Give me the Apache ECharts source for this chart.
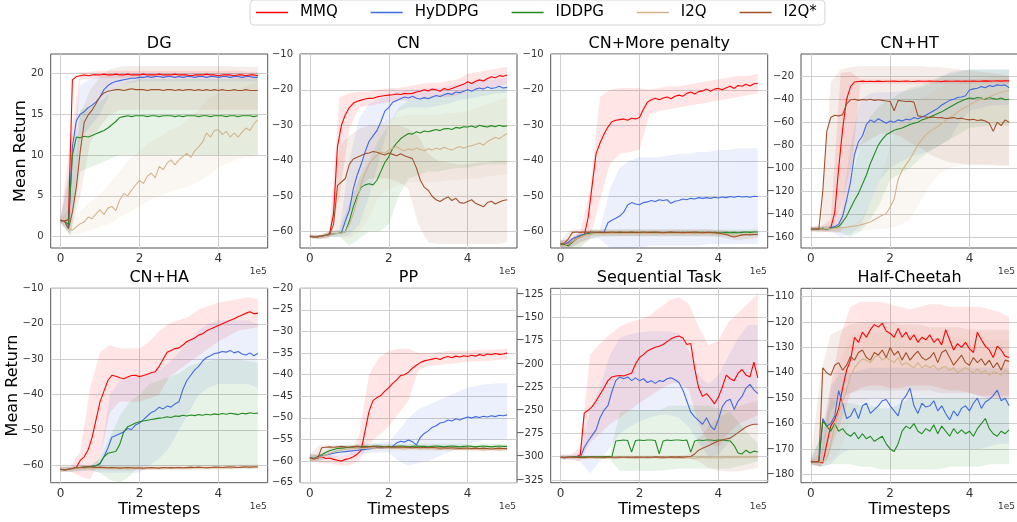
<!DOCTYPE html>
<html>
<head>
<meta charset="utf-8">
<script src="https://cdn.jsdelivr.net/npm/echarts@6/dist/echarts.min.js"></script>
<style>
  html, body { margin: 0; padding: 0; background: #fff; }
  #chart { width: 1017px; height: 522px; }
</style>
</head>
<body>
<div id="chart"></div>
<script>
const names = ['MMQ', 'HyDDPG', 'IDDPG', 'I2Q', 'I2Q*'];
const colors = ['#ff0000', '#4169e1', '#228b22', '#d2b48c', '#a0522d'];
const titles = ['DG', 'CN', 'CN+More penalty', 'CN+HT', 'CN+HA', 'PP', 'Sequential Task', 'Half-Cheetah'];

// timesteps (x 1e5) of the mean curves and of the shaded bands
const steps = [0,0.1,0.2,0.3,0.4,0.5,0.6,0.7,0.8,0.9,1,1.1,1.2,1.3,1.4,1.5,1.6,1.7,1.8,1.9,2,2.1,2.2,2.3,2.4,2.5,2.6,2.7,2.8,2.9,
  3,3.1,3.2,3.3,3.4,3.5,3.6,3.7,3.8,3.9,4,4.1,4.2,4.3,4.4,4.5,4.6,4.7,4.8,4.9,5];
const bandSteps = [0,0.25,0.5,0.75,1,1.25,1.5,1.75,2,2.25,2.5,2.75,3,3.25,3.5,3.75,4,4.25,4.5,4.75,5];

const xTicks = [0, 2, 4];
const yTicks = [
  [0, 5, 10, 15, 20],
  [-60, -50, -40, -30, -20, -10],
  [-60, -50, -40, -30, -20, -10],
  [-160, -140, -120, -100, -80, -60, -40, -20],
  [-60, -50, -40, -30, -20, -10],
  [-65, -60, -55, -50, -45, -40, -35, -30, -25, -20],
  [-325, -300, -275, -250, -225, -200, -175, -150, -125],
  [-180, -170, -160, -150, -140, -130, -120, -110]
];
const yRanges = [[-1.38, 22.36], [-64.6, -9.9], [-64.6, -9.9], [-169.6, -0.6], [-64.8, -10], [-65, -20], [-328, -118.5], [-183.3, -106.7]];

// ---------- DG ----------
const dgMMQ = [2.0,1.9,2.1,19.2,19.6,19.7,19.8,19.7,19.8,19.8,
  19.8,19.9,19.8,19.8,19.9,19.8,19.8,19.9,19.8,19.8,
  19.8,19.9,19.8,19.8,19.8,19.9,19.8,19.8,19.8,19.9,
  19.8,19.8,19.8,19.7,19.8,19.8,19.8,19.9,19.8,19.8,
  19.7,19.8,19.8,19.8,19.7,19.8,19.8,19.7,19.8,19.8, 19.7];
const dgHyDDPG = [2.0,1.9,1.0,11.0,14.2,15.0,15.3,15.8,16.1,16.5,
  17.1,18.0,18.5,18.8,19.0,19.1,19.2,19.3,19.4,19.4,
  19.5,19.5,19.6,19.5,19.6,19.6,19.5,19.6,19.6,19.5,
  19.6,19.5,19.6,19.6,19.5,19.6,19.6,19.5,19.6,19.6,
  19.5,19.6,19.6,19.5,19.6,19.6,19.5,19.6,19.6,19.5, 19.5];
const dgIDDPG = [2.0,1.9,1.5,10.0,12.2,12.1,12.3,12.2,12.4,12.6,
  12.8,13.0,13.3,13.7,14.1,14.6,14.7,14.8,14.7,14.8,
  14.8,14.8,14.7,14.8,14.8,14.7,14.8,14.8,14.8,14.7,
  14.8,14.7,14.8,14.8,14.8,14.7,14.8,14.8,14.7,14.8,
  14.8,14.8,14.7,14.8,14.8,14.7,14.8,14.8,14.8,14.7, 14.8];
const dgI2Q = [2.0,1.9,1.0,0.8,1.2,1.6,1.8,2.4,2.2,2.8,
  3.3,2.7,3.5,3.7,3.2,4.5,5.3,5.0,5.7,6.3,
  6.9,6.5,7.4,7.8,7.2,8.6,8.2,9.0,9.4,8.8,
  9.4,9.8,10.2,9.7,10.5,11.0,11.6,12.7,12.2,13.0,
  13.1,12.5,12.9,12.2,12.7,12.2,12.8,13.3,13.0,13.8, 14.3];
const dgI2Qs = [2.0,1.9,1.0,3.0,6.1,10.5,14.0,14.9,15.5,16.3,
  17.1,17.6,17.8,17.9,18.0,18.0,17.9,18.0,18.1,18.0,
  18.0,18.0,17.9,18.0,18.0,18.0,17.9,18.0,18.0,17.9,
  18.0,17.9,18.0,18.0,17.9,18.0,17.9,18.0,17.9,18.0,
  17.9,18.0,17.9,17.9,18.0,17.9,17.9,18.0,17.9,17.9, 17.9];
const dgMMQLo = [1.7,1.7,19.2,19.3,19.4,19.4,19.4,19.4,19.4,19.4,19.4,19.4,19.4,19.4,19.4,19.4,19.4,19.4,19.3,19.3,19.3];
const dgMMQHi = [2.3,12,20.1,20.2,20.3,20.3,20.3,20.3,20.3,20.3,20.3,20.3,20.3,20.3,20.3,20.3,20.3,20.3,20.3,20.2,20.2];
const dgHyDDPGLo = [1.7,0.3,12.0,13.5,15.0,17.5,18.5,18.8,19.0,19.0,19.0,19.0,19.0,19.0,19.0,19.0,19.0,19.0,19.0,19.0,19.0];
const dgHyDDPGHi = [2.3,9.0,18.5,19.3,19.7,19.9,20.0,20.0,20.0,20.0,20.0,20.0,20.0,20.0,20.0,20.0,20.0,20.0,20.0,20.0,20.0];
const dgIDDPGLo = [1.7,0.0,8.0,8.5,9.0,9.5,10.0,10.0,10.0,10.0,10.0,10.0,10.0,10.0,10.0,10.0,10.0,10.0,10.0,10.0,10.0];
const dgIDDPGHi = [2.3,8.0,15.5,16.0,16.5,17.5,18.5,19.0,19.3,19.3,19.3,19.3,19.3,19.3,19.3,19.3,19.3,19.3,19.3,19.3,19.3];
const dgI2QLo = [1.7,0.2,0.3,0.8,1.2,1.6,2.4,3.0,3.8,4.4,5.0,5.4,5.8,6.2,6.8,7.5,8.5,9.0,9.5,9.8,10.0];
const dgI2QHi = [2.3,2.0,3.2,4.2,5.2,6.5,8.0,9.5,10.5,11.5,12.2,13.0,13.5,14.5,15.5,17.0,17.5,17.8,18.0,18.5,19.0];
const dgI2QsLo = [1.7,0.3,5.0,11.5,13.5,15.0,15.5,15.5,15.5,15.5,15.5,15.5,15.5,15.5,15.5,15.5,15.5,15.5,15.5,15.5,15.5];
const dgI2QsHi = [2.3,3.5,15.0,18.0,19.5,20.5,20.8,20.9,20.9,20.9,20.9,20.9,20.9,20.9,20.9,20.9,20.9,20.9,20.8,20.8,20.8];

// ---------- CN ----------
const cnMMQ = [-61.3,-61.5,-61.4,-61.2,-61.0,-60.6,-55.0,-36.0,-30.0,-27.0,
  -25.0,-23.8,-23.2,-22.9,-22.6,-22.4,-22.4,-22.0,-21.8,-21.6,
  -21.5,-21.4,-21.2,-21.3,-21.0,-21.1,-21.0,-20.6,-20.4,-20.0,
  -20.3,-19.8,-20.0,-20.4,-19.6,-20.0,-19.6,-19.2,-18.8,-18.4,
  -17.7,-18.2,-17.6,-17.2,-17.5,-16.8,-16.3,-16.6,-16.0,-16.2, -15.8];
const cnHyDDPG = [-61.3,-61.5,-61.4,-61.2,-61.0,-60.8,-60.6,-60.5,-60.3,-57.0,
  -54.0,-48.0,-44.0,-41.0,-37.5,-34.5,-33.0,-31.5,-29.0,-26.0,
  -25.0,-23.5,-23.0,-22.5,-22.0,-22.3,-21.8,-22.4,-22.6,-22.2,
  -22.5,-22.0,-21.6,-21.9,-21.4,-21.0,-21.3,-20.6,-20.8,-20.4,
  -20.0,-20.4,-19.8,-19.5,-19.8,-19.2,-19.6,-19.4,-19.0,-19.5, -19.3];
const cnIDDPG = [-61.3,-61.5,-61.4,-61.2,-61.0,-60.8,-60.6,-60.5,-60.4,-60.0,
  -57.0,-53.0,-50.0,-47.5,-46.8,-46.5,-46.8,-45.5,-43.0,-40.5,
  -38.9,-36.5,-35.0,-33.8,-33.0,-32.3,-32.5,-31.8,-32.2,-31.6,
  -31.8,-31.5,-31.2,-31.5,-31.0,-30.9,-31.2,-30.6,-30.8,-30.4,
  -30.5,-30.2,-30.6,-30.0,-30.3,-30.5,-30.1,-30.4,-30.0,-30.3, -30.2];
const cnI2Q = [-61.3,-61.5,-61.4,-61.2,-61.0,-60.8,-60.6,-60.5,-60.4,-60.0,
  -58.0,-55.0,-51.0,-46.5,-43.5,-41.0,-39.5,-38.5,-37.5,-37.8,
  -37.0,-36.5,-36.0,-36.8,-37.2,-36.6,-37.0,-36.4,-36.8,-37.2,
  -36.6,-37.0,-36.4,-36.8,-36.2,-36.6,-37.0,-36.4,-36.0,-36.5,
  -36.0,-35.8,-35.4,-35.0,-35.6,-34.6,-34.0,-33.4,-33.8,-33.0, -32.3];
const cnI2Qs = [-61.3,-61.5,-61.4,-61.2,-61.0,-60.8,-58.0,-47.0,-46.0,-45.0,
  -41.0,-39.5,-39.0,-38.5,-38.0,-37.8,-37.4,-37.6,-38.0,-38.4,
  -37.8,-38.2,-38.6,-38.0,-38.6,-39.0,-39.4,-42.0,-45.5,-47.5,
  -48.3,-50.0,-51.0,-51.5,-50.8,-50.2,-51.2,-50.6,-51.8,-52.0,
  -51.5,-51.0,-52.0,-52.5,-53.0,-51.8,-51.4,-52.2,-51.6,-51.2, -51.0];
const cnMMQLo = [-61.8,-62,-62,-50,-31,-25,-24.5,-24,-23.5,-23,-23,-22.5,-22.5,-22,-22,-21.5,-20.5,-20,-19.5,-19,-18.5];
const cnMMQHi = [-60.8,-61,-60,-22,-21,-20.5,-20.5,-20,-19.5,-19.5,-19,-18.5,-18,-18,-17.5,-17,-15.5,-15,-14.5,-14,-13.5];
const cnHyDDPGLo = [-61.8,-62,-61.5,-61.5,-61,-58,-50,-40,-30,-26,-25,-25,-25,-24.5,-24,-23,-22.5,-22,-21.5,-21,-21];
const cnHyDDPGHi = [-60.8,-61,-60,-59.5,-40,-28,-24,-22.5,-21,-20.5,-20,-20,-19.5,-19.5,-19,-18.5,-18,-17.5,-17,-17,-16.5];
const cnIDDPGLo = [-61.8,-62,-61.5,-61.5,-64,-62,-60,-60,-58,-50,-45,-44,-43,-43,-42.5,-42,-42,-41.5,-41,-41,-41];
const cnIDDPGHi = [-60.8,-61,-60,-59.5,-52,-45,-40,-34,-30,-25,-23,-22.5,-22,-21.5,-21,-21,-20.5,-20,-20,-19.5,-19];
const cnI2QLo = [-61.8,-62,-61.5,-61.5,-62,-60,-56,-50,-48,-47,-46,-46,-46,-46,-45.5,-45.5,-45,-45,-44.5,-44,-44];
const cnI2QHi = [-60.8,-61,-60,-59.5,-56,-45,-34,-30,-28,-27.5,-27,-27,-27,-27,-26.5,-26.5,-26,-25,-24,-23,-22];
const cnI2QsLo = [-61.8,-62,-61.5,-60,-55,-48,-45,-45,-45,-46,-48,-58,-63,-63.5,-63.5,-63.5,-63.5,-63.5,-63.5,-63.5,-63];
const cnI2QsHi = [-60.8,-61,-60,-36,-33,-31,-30,-30,-30,-30,-31,-33,-38,-40,-40.5,-41,-41,-40.5,-40.5,-40,-40];

// ---------- CN+More penalty ----------
const mpMMQ = [-63.5,-63.8,-63.4,-62.8,-62.0,-61.5,-61.0,-56.0,-47.0,-38.0,
  -35.0,-32.5,-30.5,-29.0,-28.6,-28.4,-28.2,-28.6,-28.0,-28.2,
  -27.8,-25.5,-23.5,-22.8,-22.4,-22.8,-22.3,-22.0,-22.5,-21.8,
  -21.5,-21.8,-21.0,-20.6,-21.2,-20.5,-20.3,-19.8,-20.4,-19.8,
  -19.6,-20.0,-19.4,-19.0,-19.6,-18.8,-19.0,-18.4,-18.9,-18.3, -18.2];
const mpHyDDPG = [-63.5,-63.6,-63.0,-62.0,-61.5,-61.0,-60.7,-60.5,-60.4,-60.3,
  -60.3,-60.2,-57.5,-56.8,-56.2,-55.6,-54.5,-52.5,-51.8,-52.2,
  -52.4,-51.8,-51.6,-51.2,-51.5,-51.0,-51.2,-51.0,-52.0,-51.4,
  -51.2,-50.8,-51.0,-50.6,-50.8,-50.4,-50.6,-50.4,-50.6,-50.3,
  -50.5,-50.2,-50.4,-50.1,-50.3,-50.0,-50.2,-50.1,-50.3,-50.0, -50.1];
const mpIDDPG = [-63.5,-63.6,-64.0,-63.0,-62.0,-61.3,-60.8,-60.6,-60.5,-60.4,
  -60.3,-60.2,-60.3,-60.4,-60.3,-60.2,-60.3,-60.3,-60.2,-60.3,
  -60.3,-60.4,-60.3,-60.2,-60.3,-60.3,-60.4,-60.3,-60.2,-60.3,
  -60.3,-60.2,-60.3,-60.3,-60.4,-60.3,-60.2,-60.3,-60.3,-60.2,
  -60.3,-60.3,-60.2,-60.3,-60.2,-60.3,-60.2,-60.1,-60.2,-60.1, -60.1];
const mpI2Q = [-63.8,-63.9,-63.5,-62.8,-62.0,-61.5,-61.0,-60.8,-60.6,-60.5,
  -60.5,-60.6,-60.5,-60.4,-60.5,-60.6,-60.5,-60.4,-60.5,-60.5,
  -60.6,-60.5,-60.4,-60.5,-60.6,-60.5,-60.5,-60.4,-60.5,-60.6,
  -60.5,-60.4,-60.5,-60.5,-60.6,-60.5,-60.4,-60.5,-60.6,-60.5,
  -60.6,-60.7,-60.8,-60.9,-61.0,-61.0,-60.9,-60.8,-60.7,-60.7, -60.6];
const mpI2Qs = [-63.5,-63.2,-62.0,-60.2,-60.1,-60.2,-60.1,-60.2,-60.1,-60.2,
  -60.1,-60.2,-60.2,-60.1,-60.2,-60.1,-60.2,-60.2,-60.1,-60.2,
  -60.2,-60.1,-60.2,-60.2,-60.1,-60.2,-60.3,-60.2,-60.1,-60.2,
  -60.2,-60.3,-60.2,-60.2,-60.1,-60.2,-60.3,-60.2,-60.2,-60.3,
  -60.4,-60.6,-60.8,-61.2,-61.5,-61.2,-60.9,-60.8,-60.9,-60.8, -60.8];
const mpMMQLo = [-64.5,-64.5,-63,-62,-51,-41,-38,-37.5,-37,-27,-26,-25.5,-25,-24.5,-24,-23.5,-23,-22.5,-22,-21.5,-21];
const mpMMQHi = [-62.5,-62,-60,-48,-22,-20,-19.5,-19.5,-19.5,-20,-19.5,-19,-19,-18.5,-18,-17.5,-17,-16.5,-16,-16,-15.5];
const mpHyDDPGLo = [-64.5,-64.5,-63,-62,-62,-65,-65.5,-65,-64.5,-64,-64,-64,-64,-64,-64,-63.5,-63.5,-63.5,-63.5,-63.5,-63.5];
const mpHyDDPGHi = [-62.5,-62,-60,-59.5,-59.5,-48,-42,-40,-39,-39,-39,-38.5,-38,-38,-37.5,-37.5,-37,-37,-36.5,-36.5,-36.5];
const mpIDDPGLo = [-64.5,-65,-64.5,-62,-61.3,-61.3,-61.2,-61.2,-61.2,-61.2,-61.2,-61.2,-61.2,-61.2,-61.2,-61.2,-61.2,-61.2,-61.2,-61.2,-61.2];
const mpIDDPGHi = [-62.5,-62.5,-60.5,-59.5,-59.4,-59.4,-59.4,-59.4,-59.4,-59.4,-59.4,-59.4,-59.4,-59.4,-59.4,-59.4,-59.4,-59.4,-59.4,-59.4,-59.2];
const mpI2QLo = [-64.5,-64.5,-64,-62,-61.5,-61.5,-61.5,-61.5,-61.5,-61.5,-61.5,-61.5,-61.5,-61.5,-61.5,-61.5,-61.5,-61.8,-62,-62,-61.8];
const mpI2QHi = [-62.5,-62.5,-61,-59.5,-59.5,-59.5,-59.5,-59.5,-59.5,-59.5,-59.5,-59.5,-59.5,-59.5,-59.5,-59.5,-59.5,-59.8,-60,-60,-59.8];
const mpI2QsLo = [-64.5,-63.5,-61.5,-61.2,-61.2,-61.2,-61.2,-61.2,-61.2,-61.2,-61.2,-61.2,-61.2,-61.2,-61.2,-61.2,-61.5,-62,-62.5,-62,-61.8];
const mpI2QsHi = [-62.5,-59.5,-59.3,-59.3,-59.3,-59.3,-59.3,-59.3,-59.3,-59.3,-59.3,-59.3,-59.3,-59.3,-59.3,-59.3,-59.5,-59.8,-60,-59.8,-59.8];

// ---------- CN+HT ----------
const htMMQ = [-153,-152.8,-153,-152.6,-153,-152,-139,-100,-66,-40,
  -29,-25,-24.5,-24.2,-24.5,-24.3,-24.6,-24.2,-24.5,-24.3,
  -24.4,-24.2,-24.5,-24.3,-24.2,-24.4,-24.5,-24.2,-24.3,-24.4,
  -24.2,-24.4,-24.3,-24.5,-24.2,-24.3,-24.4,-24.2,-24.3,-24.2,
  -24.3,-24.1,-24.3,-24.2,-24.0,-24.2,-24.1,-24.0,-24.2,-24.0, -24.0];
const htHyDDPG = [-153,-153,-153,-152.5,-153,-152,-151,-149,-142,-128,
  -112,-88,-77,-72,-62,-58,-60,-57,-59,-61,
  -59,-60,-58,-59,-57.5,-58,-56,-57,-55.5,-54,
  -52,-50,-48,-45,-43,-41,-40,-38.5,-38,-37,
  -32,-31,-30.5,-29,-30,-28,-29,-27.5,-28,-27.5, -30];
const htIDDPG = [-153,-153,-153,-152.5,-153,-152.5,-152,-151,-147,-142,
  -135,-128,-122,-114,-106,-96,-88,-80,-75,-71,
  -69,-67,-66,-65,-63.5,-62,-61,-60,-58,-57,
  -55.5,-54,-52.5,-51,-49,-47,-45,-43,-41.5,-40,
  -39,-39.5,-38.5,-39,-40,-38.5,-39.5,-40,-39,-40.5, -40];
const htI2Q = [-153,-153,-153,-153,-152.5,-153,-152.5,-152,-152,-151.5,
  -151,-150.5,-150,-149,-148,-147,-145,-143,-141,-139.5,
  -134,-127,-110,-102,-97,-92,-86,-80,-75,-71,
  -68,-66,-64,-61,-59,-56,-54,-51,-49,-47,
  -45,-43,-41,-40,-39,-38,-36.5,-35,-34,-33, -32];
const htI2Qs = [-153,-153,-153,-120,-68,-56,-54,-54.5,-53.5,-44,
  -40.5,-40,-41,-40.2,-40.6,-40,-41,-40.5,-41,-41.5,
  -42,-50,-41,-41.5,-42,-41.8,-42.5,-54.5,-55,-55.5,
  -56,-55.5,-56.2,-56,-56.8,-56.5,-56,-57,-56.5,-57.5,
  -58,-57.5,-58.5,-58,-59,-61,-68,-60,-63,-58, -60];
const htMMQLo = [-155,-155,-156,-156,-110,-27,-26.5,-26.5,-26.5,-26.5,-26.5,-26.5,-26.5,-26.5,-26.5,-26.5,-26.5,-26.5,-26.5,-26.5,-26.5];
const htMMQHi = [-151,-151,-145,-17,-16,-22.5,-22.5,-22.5,-22.5,-22.5,-22.5,-22.5,-22.5,-22.5,-22.5,-22.5,-22.5,-22.5,-22.5,-22.5,-22];
const htHyDDPGLo = [-155,-155,-155,-160,-158,-150,-130,-110,-100,-95,-90,-88,-85,-80,-75,-60,-50,-48,-46,-45,-45];
const htHyDDPGHi = [-151,-151,-150,-140,-80,-40,-35,-34,-34,-33,-32,-30,-27,-22,-16,-15,-14,-14,-14,-14,-14];
const htIDDPGLo = [-155,-155,-155,-156,-160,-155,-145,-130,-110,-105,-100,-92,-85,-80,-75,-70,-65,-64,-63,-63,-63];
const htIDDPGHi = [-151,-151,-150,-148,-110,-80,-55,-45,-40,-35,-30,-28,-25,-20,-18,-16,-14,-14,-14,-14,-14];
const htI2QLo = [-155,-155,-155,-155,-155,-155,-154,-153,-152,-150,-145,-130,-115,-105,-100,-98,-97,-97,-97,-97,-97];
const htI2QHi = [-151,-151,-151,-151,-150,-145,-130,-110,-80,-60,-48,-40,-35,-30,-27,-25,-23,-22,-21,-20,-19];
const htI2QsLo = [-155,-156,-155,-135,-100,-80,-75,-70,-70,-72,-78,-82,-88,-92,-95,-96,-97,-97,-97,-98,-98];
const htI2QsHi = [-151,-150,-25,-14,-12,-11,-11,-11,-11,-11,-11,-11,-12,-12,-13,-14,-15,-16,-17,-18,-20];

// ---------- CN+HA ----------
const haMMQ = [-61,-61.2,-61,-60.8,-60.5,-58.5,-57.5,-55.5,-52,-47,
  -42,-39,-36,-34.5,-34.8,-35.2,-35.5,-35,-34.6,-34.5,
  -34.9,-34.6,-34.2,-33.8,-33.5,-32,-30,-28,-27.5,-27,
  -26.8,-26,-25,-24.5,-24,-23.2,-22.8,-22,-21.5,-21,
  -20.5,-20,-19.5,-19,-18.6,-18,-17.5,-17,-16.6,-17.2, -17];
const haHyDDPG = [-61,-61.2,-61,-60.8,-60.6,-60.5,-60.4,-60.3,-60.2,-60.0,
  -59.5,-57.5,-55,-52,-51.5,-51,-50.5,-49.5,-49.8,-48.5,
  -48,-47,-46,-45,-44.5,-43.5,-44,-43.2,-43.5,-42.6,
  -42,-38.5,-36,-34.5,-33,-32,-30.5,-29.5,-29,-28.4,
  -28.2,-27.8,-28,-27.5,-28.2,-27.8,-28.5,-28.8,-28.2,-29, -28.3];
const haIDDPG = [-61,-61.2,-61,-60.8,-60.6,-60.5,-60.4,-60.3,-60.2,-60.0,
  -59.3,-57.5,-56.5,-56.2,-56,-54,-50.5,-49,-48.5,-48,
  -47.6,-47.4,-47.2,-47,-46.8,-46.6,-46.5,-46.2,-46.4,-46,
  -46.1,-45.8,-46,-45.7,-45.9,-45.6,-45.8,-45.5,-45.7,-45.4,
  -45.6,-45.3,-45.5,-45.2,-45.4,-45.6,-45.2,-45.4,-45.1,-45.3, -45.2];
const haI2Q = [-61.2,-61.3,-61.0,-60.9,-60.8,-60.7,-60.8,-60.7,-60.6,-60.7,
  -60.6,-60.7,-60.8,-60.7,-60.6,-60.7,-60.8,-60.9,-60.8,-60.7,
  -60.8,-60.9,-60.8,-60.7,-60.8,-60.7,-60.6,-60.7,-60.8,-60.7,
  -60.6,-60.7,-60.8,-60.7,-60.6,-60.5,-60.6,-60.7,-60.6,-60.5,
  -60.6,-60.5,-60.6,-60.7,-60.6,-60.5,-60.4,-60.5,-60.6,-60.5, -60.5];
const haI2Qs = [-61.0,-61.2,-61.0,-60.8,-60.6,-60.5,-60.4,-60.3,-60.4,-60.5,
  -60.4,-60.5,-60.6,-60.5,-60.6,-60.7,-60.6,-60.5,-60.6,-60.7,
  -60.6,-60.7,-60.6,-60.5,-60.6,-60.7,-60.5,-60.6,-60.5,-60.6,
  -60.5,-60.6,-60.5,-60.4,-60.5,-60.4,-60.5,-60.6,-60.5,-60.4,
  -60.4,-60.5,-60.4,-60.3,-60.4,-60.5,-60.4,-60.3,-60.4,-60.3, -60.3];
const haMMQLo = [-61.7,-61.7,-63,-64,-58,-45,-42,-42,-42,-41,-40,-35,-33,-31,-29,-27,-25,-23.5,-22,-21.5,-21];
const haMMQHi = [-60.3,-60.3,-56,-38,-28,-26,-27,-27,-27,-25,-22,-20,-19,-18,-16,-15,-14,-13.5,-13,-12.5,-13];
const haHyDDPGLo = [-61.7,-61.7,-61.5,-61.3,-62,-62,-62,-62,-62,-60,-58,-55,-50,-45,-40,-38,-37,-37,-37,-37,-38];
const haHyDDPGHi = [-60.3,-60.3,-60.3,-60,-58,-40,-36,-35,-35,-34,-33,-31,-28,-25,-22,-20,-19,-19,-19,-19,-20];
const haIDDPGLo = [-61.7,-61.7,-61.5,-61.3,-62,-64,-65,-63,-60,-60,-60,-60,-60,-60,-60,-60,-60,-60,-60,-60,-60];
const haIDDPGHi = [-60.3,-60.3,-60.3,-60,-58,-52,-46,-42,-40,-37,-36,-35,-34,-32,-31,-30.5,-30,-30,-30,-30.5,-31];
const haI2QLo = [-61.8,-61.6,-61.4,-61.4,-61.3,-61.3,-61.4,-61.4,-61.4,-61.3,-61.3,-61.3,-61.3,-61.2,-61.2,-61.2,-61.2,-61.1,-61.1,-61.1,-61.1];
const haI2QHi = [-60.6,-60.4,-60.2,-60.2,-60.1,-60.1,-60.2,-60.2,-60.2,-60.1,-60.1,-60.1,-60.1,-60.0,-60.0,-60.0,-60.0,-59.9,-59.9,-59.9,-59.9];
const haI2QsLo = [-61.6,-61.4,-61.0,-61.0,-61.1,-61.2,-61.2,-61.2,-61.2,-61.2,-61.2,-61.1,-61.1,-61.1,-61.0,-61.0,-61.0,-61.0,-60.9,-60.9,-60.9];
const haI2QsHi = [-60.4,-60.2,-59.8,-59.8,-59.9,-60.0,-60.0,-60.0,-60.0,-60.0,-60.0,-59.9,-59.9,-59.9,-59.8,-59.8,-59.8,-59.8,-59.7,-59.7,-59.7];

// ---------- PP ----------
const ppMMQ = [-59.2,-59.5,-59.3,-59.0,-59.4,-59.3,-59.6,-59.8,-60.0,-59.6,
  -59.4,-59.0,-58.4,-57.5,-53.0,-48.5,-46.0,-45.3,-44.8,-43.8,
  -43.0,-42.0,-41.2,-40.2,-40.0,-39.4,-38.5,-37.8,-37.2,-36.8,
  -36.6,-36.4,-36.2,-36.5,-36.0,-35.8,-36.1,-35.7,-35.9,-35.6,
  -35.8,-35.5,-35.7,-35.3,-35.6,-35.2,-35.4,-35.1,-35.3,-35.2, -35.0];
const ppHyDDPG = [-59.2,-59.4,-59.0,-58.8,-58.6,-58.4,-58.2,-58.0,-57.9,-57.8,
  -57.7,-57.6,-57.5,-57.4,-57.3,-57.2,-57.1,-57.0,-57.0,-56.9,
  -56.8,-56.6,-55.8,-55.4,-55.6,-55.1,-55.5,-56.3,-54.5,-53.6,
  -53.0,-52.2,-51.8,-51.2,-51.0,-50.5,-50.7,-50.2,-50.5,-50.1,
  -49.8,-50.0,-49.7,-49.9,-49.6,-49.8,-49.5,-49.7,-49.4,-49.5, -49.3];
const ppIDDPG = [-59.2,-59.4,-59.0,-58.5,-58.0,-57.6,-57.3,-57.1,-57.0,-56.9,
  -56.8,-56.7,-56.6,-56.7,-56.6,-56.7,-56.6,-56.5,-56.6,-56.7,
  -56.6,-56.7,-56.6,-56.5,-56.6,-56.7,-56.6,-56.5,-56.6,-56.6,
  -56.7,-56.6,-56.5,-56.6,-56.7,-56.6,-56.5,-56.6,-56.7,-56.6,
  -56.5,-56.6,-56.7,-56.6,-56.5,-56.6,-56.7,-56.6,-56.5,-56.6, -56.6];
const ppI2Q = [-59.2,-59.5,-59.2,-59.0,-58.6,-58.2,-57.9,-57.6,-57.4,-57.3,
  -57.2,-57.1,-57.0,-57.1,-57.0,-56.9,-57.0,-57.1,-57.0,-56.9,
  -57.0,-57.1,-57.0,-57.1,-57.2,-57.1,-57.0,-57.1,-57.2,-57.1,
  -57.2,-57.1,-57.2,-57.3,-57.2,-57.1,-57.2,-57.3,-57.2,-57.3,
  -57.2,-57.3,-57.2,-57.3,-57.4,-57.3,-57.2,-57.3,-57.4,-57.3, -57.3];
const ppI2Qs = [-59.2,-59.5,-59.3,-56.9,-56.8,-56.7,-56.8,-56.7,-56.6,-56.7,
  -56.8,-56.7,-56.6,-56.7,-56.8,-56.7,-56.6,-56.7,-56.8,-56.7,
  -56.7,-56.8,-56.7,-56.8,-56.7,-56.8,-56.9,-56.8,-56.9,-56.8,
  -56.9,-56.8,-56.9,-57.0,-56.9,-57.0,-56.9,-57.0,-57.1,-57.0,
  -57.0,-57.1,-57.0,-57.1,-57.0,-57.1,-57.2,-57.1,-57.0,-57.1, -57.1];
const ppMMQLo = [-60,-60.5,-60.5,-61,-61,-60,-56,-54,-52,-49,-46,-39,-38,-37.8,-37.5,-37.3,-37,-36.9,-36.8,-36.6,-36.5];
const ppMMQHi = [-58.5,-58.5,-58.5,-59,-58.5,-54,-40,-36,-34.5,-34,-34,-35,-35,-34.8,-34.5,-34.5,-34.5,-34.3,-34.2,-34.1,-34];
const ppHyDDPGLo = [-60,-60,-59.5,-59,-58.7,-58.5,-58.2,-58,-58,-60,-61,-60.5,-60,-59,-58,-57,-56,-55.5,-55,-55,-55];
const ppHyDDPGHi = [-58.5,-58.5,-57.5,-57,-56.5,-56.3,-56,-55.8,-55.5,-53,-50,-48,-47,-46,-45,-44,-43,-42.5,-42.2,-42,-42];
const ppIDDPGLo = [-60,-60,-58.3,-57.8,-57.3,-57.2,-57.1,-57.1,-57.1,-57.1,-57.1,-57.1,-57.1,-57.1,-57.1,-57.1,-57.1,-57.1,-57.1,-57.1,-57.1];
const ppIDDPGHi = [-58.5,-58.5,-57,-56.5,-56.2,-56.1,-56,-56,-56,-56,-56,-56,-56,-56,-56,-56,-56,-56,-56,-56,-56];
const ppI2QLo = [-60,-60,-58.5,-58,-57.8,-57.6,-57.6,-57.6,-57.6,-57.6,-57.6,-57.6,-57.7,-57.7,-57.7,-57.7,-57.8,-57.8,-57.8,-57.8,-57.8];
const ppI2QHi = [-58.5,-58.5,-57.2,-56.8,-56.6,-56.5,-56.5,-56.5,-56.5,-56.5,-56.5,-56.5,-56.6,-56.6,-56.6,-56.6,-56.6,-56.6,-56.6,-56.6,-56.6];
const ppI2QsLo = [-60,-59.5,-57.3,-57.2,-57.2,-57.2,-57.2,-57.2,-57.2,-57.3,-57.3,-57.3,-57.4,-57.4,-57.5,-57.5,-57.5,-57.6,-57.6,-57.6,-57.6];
const ppI2QsHi = [-58.5,-56.2,-56.2,-56.2,-56.2,-56.2,-56.2,-56.2,-56.2,-56.3,-56.3,-56.3,-56.4,-56.4,-56.4,-56.5,-56.5,-56.5,-56.5,-56.5,-56.5];

// ---------- Sequential Task ----------
const sqMMQ = [-300.5,-301,-300.5,-300.8,-300.2,-298,-253,-250,-246,-240,
  -233,-226,-218,-214,-213,-212.5,-213,-211.5,-210,-200,
  -193,-190,-186,-184,-182,-181,-179,-176,-173,-171,
  -170,-172,-179,-178,-205,-226,-235,-232,-237,-243,
  -236,-225,-212,-216,-218,-210,-206,-212,-214,-198, -215];
const sqHyDDPG = [-300.5,-301,-300.5,-300.8,-300.2,-301,-290,-283,-277,-271,
  -258,-250,-245,-230,-218,-214,-216,-214,-218,-215,
  -218,-216,-220,-218,-221,-218,-219,-216,-215,-217,
  -220,-228,-240,-252,-257,-261,-265,-258,-267,-271,
  -260,-246,-240,-238,-249,-240,-235,-226,-222,-228, -232];
const sqIDDPG = [-300.5,-301,-300.5,-300.2,-300.2,-300.4,-300.2,-300,-300,-300.2,
  -300,-300,-299.8,-300,-283,-282.5,-282,-282.5,-295,-282.5,
  -282,-282.5,-282,-282,-282.5,-297,-283,-282,-282.5,-282,
  -282,-282.5,-282,-295,-283,-282,-282.5,-282,-282,-282.5,
  -282,-282,-282.5,-283,-288,-296,-297,-293,-296,-294, -295];
const sqI2Q = [-300.5,-301,-300.8,-301.2,-300.6,-301.5,-302,-301.2,-300.8,-301.5,
  -301,-301.6,-300.8,-301.2,-301.8,-301,-300.6,-301.4,-301,-301.6,
  -301.2,-300.8,-301.5,-301,-300.6,-301.3,-301.8,-301,-300.7,-301.2,
  -301,-301.5,-300.8,-301.2,-301.6,-301,-300.5,-301.2,-300.8,-301.3,
  -300.8,-301.2,-300.6,-301,-300.4,-300.8,-300.2,-300.6,-300.3,-300.5, -300.2];
const sqI2Qs = [-300.5,-300.8,-300.6,-300.4,-300.7,-300.5,-300.8,-300.6,-300.4,-300.6,
  -300.5,-300.7,-300.4,-300.6,-300.5,-300.3,-300.6,-300.4,-300.5,-300.3,
  -300.4,-300.6,-300.3,-300.5,-300.2,-300.4,-300.3,-300.5,-300.2,-300.4,
  -300.2,-300.4,-300.1,-299.8,-297,-293,-291,-289,-287,-285,
  -283,-282,-281,-280,-277,-274,-271,-268,-266,-265, -265];
const sqMMQLo = [-303,-303,-305,-285,-275,-265,-258,-250,-242,-235,-228,-222,-220,-228,-265,-285,-290,-275,-265,-260,-255];
const sqMMQHi = [-298,-298,-290,-190,-178,-168,-160,-155,-152,-148,-140,-132,-128,-135,-160,-180,-175,-155,-145,-135,-125];
const sqHyDDPGLo = [-303,-303,-305,-318,-305,-290,-275,-268,-262,-258,-255,-255,-258,-268,-285,-300,-298,-285,-275,-265,-265];
const sqHyDDPGHi = [-298,-298,-296,-250,-225,-190,-172,-168,-166,-165,-165,-165,-167,-185,-212,-222,-212,-192,-172,-158,-158];
const sqIDDPGLo = [-302,-302,-302,-302,-302,-303,-315,-315,-315,-315,-315,-314,-313,-313,-313,-313,-313,-313,-310,-308,-305];
const sqIDDPGHi = [-299,-299,-299,-299,-299,-298,-252,-250,-250,-250,-250,-245,-245,-245,-245,-245,-248,-250,-262,-275,-285];
const sqI2QLo = [-302.5,-302.5,-302.5,-302.5,-302.5,-302.5,-302.5,-302.5,-302.5,-302.5,-302.5,-302.5,-302.5,-302.5,-302.5,-302.5,-302.5,-302.5,-302,-302,-302];
const sqI2QHi = [-298.5,-298.5,-298.5,-298.5,-298.5,-298.5,-298.5,-298.5,-298.5,-298.5,-298.5,-298.5,-298.5,-298.5,-298.5,-298.5,-298.5,-298.5,-298,-298,-298];
const sqI2QsLo = [-302,-302,-302,-302,-302,-302,-302,-302,-302,-302,-302,-302,-302,-302,-305,-312,-315,-316,-316,-314,-312];
const sqI2QsHi = [-299,-299,-299,-299,-299,-299,-299,-299,-299,-299,-299,-299,-299,-298,-280,-268,-258,-252,-246,-242,-240];

// ---------- Half-Cheetah ----------
const hcMMQ = [-175,-175,-175,-175.5,-168,-161,-158.5,-154,-146,-139,
  -135,-126,-128,-124,-126,-123,-121,-122,-120.5,-123.5,
  -124.5,-126,-122.5,-126,-124,-127,-125,-128,-126,-127,
  -125,-128,-126.5,-129,-123,-127,-131,-128.5,-130,-128,
  -130.5,-132,-124,-127,-129.5,-131,-134,-129.5,-131,-133.5, -134];
const hcHyDDPG = [-175,-175,-175,-158,-161,-160,-157,-147,-152,-158,
  -157,-154,-158,-153,-152,-156,-154.5,-153,-151,-150.5,
  -153,-155,-157,-151,-149,-146,-153,-156,-152,-153.5,
  -153,-151,-155,-153,-156,-158.5,-155,-157,-154,-153,
  -155,-152,-150,-154,-151.5,-150.5,-149,-146.8,-151,-150, -153];
const hcIDDPG = [-175,-175,-175,-159,-161,-163,-160,-163,-162,-164,
  -165,-163.5,-166,-164,-166,-165,-167,-166,-165,-168,
  -170,-171,-168,-163,-161,-162,-160,-163,-164,-162,
  -163,-160.5,-164,-161,-163,-165,-162,-164,-162.5,-164,
  -163,-165,-162,-160,-158,-162,-164,-165,-163,-164, -162.5];
const hcI2Q = [-175,-175,-175,-175,-174,-168,-161,-156,-151,-147,
  -141,-138,-136,-134.5,-135,-136,-134,-133,-135,-134,
  -135,-136,-134,-137,-136,-137,-138,-136,-138,-137,
  -138,-137,-139,-138,-137.5,-139,-138,-140,-139,-138,
  -139,-140,-138.5,-140,-139,-141,-139.5,-140,-141,-139, -140];
const hcI2Qs = [-175,-175,-175,-138,-140,-141,-137,-136,-139,-137,
  -133.5,-135,-132,-131,-134,-135,-132,-133,-131,-134,
  -130,-133,-131.5,-135,-132,-135,-133,-131.5,-134,-135,
  -134,-132,-136,-132,-131,-134,-137,-135,-133,-136,
  -137,-134,-136,-134.5,-137,-135,-138,-136,-139,-135, -135.5];
const hcMMQLo = [-176,-177,-170,-160,-148,-146,-145,-145,-146,-146,-145,-145,-145,-146,-147,-147,-148,-149,-150,-150,-150];
const hcMMQHi = [-174,-172,-145,-125,-114,-112,-112,-112,-113,-114,-115,-114,-113,-113,-114,-114,-114,-114,-115,-116,-118];
const hcHyDDPGLo = [-176,-177,-176,-172,-170,-170,-170,-170,-170,-170,-170,-170,-170,-170,-170,-170,-170,-170,-169,-168,-168];
const hcHyDDPGHi = [-174,-165,-145,-140,-140,-139,-138,-138,-138,-138,-138,-138,-138,-138,-138,-138,-138,-138,-138,-138,-138];
const hcIDDPGLo = [-176,-177,-176,-176,-176,-177,-177,-178,-178,-178,-178,-178,-178,-178,-177,-177,-177,-177,-176,-176,-176];
const hcIDDPGHi = [-174,-165,-150,-152,-152,-153,-153,-154,-154,-152,-150,-150,-150,-150,-150,-150,-150,-150,-150,-150,-150];
const hcI2QLo = [-176,-176,-175,-170,-158,-152,-150,-150,-150,-150,-150,-150,-150,-150,-150,-150,-150,-150,-150,-150,-150];
const hcI2QHi = [-174,-174,-150,-135,-125,-124,-124,-124,-124,-125,-125,-125,-126,-126,-126,-126,-127,-127,-127,-127,-127];
const hcI2QsLo = [-176,-177,-155,-150,-148,-147,-147,-147,-147,-147,-147,-147,-147,-148,-148,-148,-148,-149,-149,-149,-149];
const hcI2QsHi = [-174,-140,-125,-123,-121,-120,-120,-120,-120,-121,-121,-121,-122,-122,-122,-122,-123,-123,-123,-123,-123];

const panelMeans = [
  [dgMMQ, dgHyDDPG, dgIDDPG, dgI2Q, dgI2Qs],
  [cnMMQ, cnHyDDPG, cnIDDPG, cnI2Q, cnI2Qs],
  [mpMMQ, mpHyDDPG, mpIDDPG, mpI2Q, mpI2Qs],
  [htMMQ, htHyDDPG, htIDDPG, htI2Q, htI2Qs],
  [haMMQ, haHyDDPG, haIDDPG, haI2Q, haI2Qs],
  [ppMMQ, ppHyDDPG, ppIDDPG, ppI2Q, ppI2Qs],
  [sqMMQ, sqHyDDPG, sqIDDPG, sqI2Q, sqI2Qs],
  [hcMMQ, hcHyDDPG, hcIDDPG, hcI2Q, hcI2Qs]
];
const panelLo = [
  [dgMMQLo, dgHyDDPGLo, dgIDDPGLo, dgI2QLo, dgI2QsLo],
  [cnMMQLo, cnHyDDPGLo, cnIDDPGLo, cnI2QLo, cnI2QsLo],
  [mpMMQLo, mpHyDDPGLo, mpIDDPGLo, mpI2QLo, mpI2QsLo],
  [htMMQLo, htHyDDPGLo, htIDDPGLo, htI2QLo, htI2QsLo],
  [haMMQLo, haHyDDPGLo, haIDDPGLo, haI2QLo, haI2QsLo],
  [ppMMQLo, ppHyDDPGLo, ppIDDPGLo, ppI2QLo, ppI2QsLo],
  [sqMMQLo, sqHyDDPGLo, sqIDDPGLo, sqI2QLo, sqI2QsLo],
  [hcMMQLo, hcHyDDPGLo, hcIDDPGLo, hcI2QLo, hcI2QsLo]
];
const panelHi = [
  [dgMMQHi, dgHyDDPGHi, dgIDDPGHi, dgI2QHi, dgI2QsHi],
  [cnMMQHi, cnHyDDPGHi, cnIDDPGHi, cnI2QHi, cnI2QsHi],
  [mpMMQHi, mpHyDDPGHi, mpIDDPGHi, mpI2QHi, mpI2QsHi],
  [htMMQHi, htHyDDPGHi, htIDDPGHi, htI2QHi, htI2QsHi],
  [haMMQHi, haHyDDPGHi, haIDDPGHi, haI2QHi, haI2QsHi],
  [ppMMQHi, ppHyDDPGHi, ppIDDPGHi, ppI2QHi, ppI2QsHi],
  [sqMMQHi, sqHyDDPGHi, sqIDDPGHi, sqI2QHi, sqI2QsHi],
  [hcMMQHi, hcHyDDPGHi, hcIDDPGHi, hcI2QHi, hcI2QsHi]
];

const FONT = 'DejaVu Sans';
const colLeft = [50.7, 300, 550.7, 801];
const rowTop = [54, 288.3];
const rowHeight = [194, 194.4];
const plotWidth = 217;

function minus(v) {
  return v < 0 ? '\u2212' + Math.abs(v) : String(v);
}

// shaded band (min..max over seeds) drawn as one polygon through the axis scales
function bandRenderer(color) {
  return function (params, api) {
    if (params.dataIndexInside !== 0) return null;
    const n = params.dataInsideLength;
    const upper = [], lower = [];
    for (let i = 0; i < n; i++) {
      const x = api.value(0, i);
      upper.push(api.coord([x, api.value(2, i)]));
      lower.push(api.coord([x, api.value(1, i)]));
    }
    const pts = echarts.graphic.clipPointsByRect(upper.concat(lower.reverse()), params.coordSys);
    return {
      type: 'polygon',
      shape: { points: pts },
      style: { fill: color, opacity: 0.1 }
    };
  };
}

const grids = [], xAxes = [], yAxes = [], series = [], graphics = [];

titles.forEach((t, k) => {
  const col = k % 4, row = Math.floor(k / 4);
  const left = colLeft[col], top = rowTop[row], h = rowHeight[row];
  grids.push({
    left: left, top: top, width: col === 3 ? 218 : plotWidth, height: h,
    show: true, borderColor: '#555', borderWidth: 1, backgroundColor: 'transparent',
    outerBoundsMode: 'none', containLabel: false
  });
  xAxes.push({
    type: 'value', gridIndex: k, min: -0.25, max: 5.25,
    axisLine: { show: false },
    axisTick: { show: false, customValues: xTicks },
    axisLabel: { customValues: xTicks, fontSize: 12, color: '#333', margin: 5, fontFamily: FONT },
    splitLine: { show: true, lineStyle: { color: '#cfcfcf', width: 1 } }
  });
  yAxes.push({
    type: 'value', gridIndex: k, min: yRanges[k][0], max: yRanges[k][1],
    axisLine: { show: false },
    axisTick: { show: false, customValues: yTicks[k] },
    axisLabel: { customValues: yTicks[k], fontSize: 10, color: '#333', margin: 7, fontFamily: FONT, formatter: minus },
    splitLine: { show: true, lineStyle: { color: '#cfcfcf', width: 1 } }
  });

  names.forEach((n, j) => {
    series.push({
      type: 'custom', xAxisIndex: k, yAxisIndex: k, silent: true, z: 1, clip: true,
      data: bandSteps.map((x, i) => [x, panelLo[k][j][i], panelHi[k][j][i]]),
      encode: { x: 0, y: [1, 2] },
      renderItem: bandRenderer(colors[j])
    });
  });
  names.forEach((n, j) => {
    series.push({
      type: 'line', name: n, xAxisIndex: k, yAxisIndex: k, z: 2,
      symbol: 'none', showSymbol: false, silent: true,
      data: steps.map((x, i) => [x, panelMeans[k][j][i]]),
      lineStyle: { width: 1.1, color: colors[j] },
      itemStyle: { color: colors[j] }
    });
  });

  const cx = left + plotWidth / 2;
  graphics.push({
    type: 'text', x: cx, y: row === 0 ? 43.5 : 277.5,
    style: { text: t, font: '16px "DejaVu Sans"', fill: '#000', textAlign: 'center', textVerticalAlign: 'middle' }
  });
  graphics.push({
    type: 'text', x: Math.min(left + plotWidth - 1, 1015), y: row === 0 ? 272 : 507,
    style: { text: '1e5', font: '9px "DejaVu Sans"', fill: '#333', textAlign: 'right', textVerticalAlign: 'middle' }
  });
  if (row === 1) {
    graphics.push({
      type: 'text', x: cx, y: 510,
      style: { text: 'Timesteps', font: '16px "DejaVu Sans"', fill: '#000', textAlign: 'center', textVerticalAlign: 'middle' }
    });
  }
});

graphics.push({
  type: 'text', x: 21, y: 151, rotation: Math.PI / 2,
  style: { text: 'Mean Return', font: '16px "DejaVu Sans"', fill: '#000', textAlign: 'center', textVerticalAlign: 'middle' }
});
graphics.push({
  type: 'text', x: 12.5, y: 385.5, rotation: Math.PI / 2,
  style: { text: 'Mean Return', font: '16px "DejaVu Sans"', fill: '#000', textAlign: 'center', textVerticalAlign: 'middle' }
});

const chart = echarts.init(document.getElementById('chart'), null, { renderer: 'canvas' });
chart.setOption({
  animation: false,
  backgroundColor: '#fff',
  textStyle: { fontFamily: FONT },
  legend: {
    data: names, left: 250, top: 0,
    icon: 'rect', itemWidth: 32, itemHeight: 1.5, itemGap: 33,
    padding: [5, 8, 5, 6],
    borderColor: '#d6d6d6', borderWidth: 1, borderRadius: 4, backgroundColor: '#fff',
    textStyle: { fontFamily: FONT, fontSize: 15, color: '#000', padding: [0, 0, 0, 7] },
    selectedMode: false
  },
  grid: grids,
  xAxis: xAxes,
  yAxis: yAxes,
  series: series,
  graphic: graphics
});
</script>
</body>
</html>
